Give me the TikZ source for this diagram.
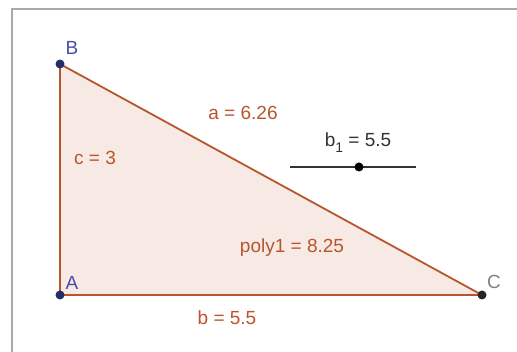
\documentclass[tikz,border=0pt]{standalone}
\usepackage{fontspec}
\setmainfont{Liberation Sans}
\definecolor{edge}{RGB}{185,85,45}
\definecolor{fillc}{RGB}{247,234,228}
\definecolor{ptlab}{RGB}{75,75,170}
\definecolor{ptblue}{RGB}{35,45,105}
\definecolor{frame}{RGB}{170,170,170}
\begin{document}
\begin{tikzpicture}[x=1pt,y=1pt,
  lab/.style={text=edge,font=\fontsize{19}{22}\selectfont,inner sep=1pt},
  plab/.style={text=ptlab,font=\fontsize{19}{22}\selectfont,inner sep=1pt},
  side/.style={draw=edge,line width=1.8pt},
  pt/.style={circle,fill=ptblue,inner sep=0pt,minimum size=9pt}]
\useasboundingbox (0,0) rectangle (517,352);
\draw[frame,line width=1.5pt] (12,0) -- (12,343) -- (517,343);
\coordinate (A) at (60,57);
\coordinate (B) at (60,288);
\coordinate (C) at (482,57);
\fill[fillc] (A) -- (B) -- (C) -- cycle;
\draw[side] (A) -- (B);
\draw[side] (B) -- (C);
\draw[side] (A) -- (C);
\node[pt] (pA) at (A) {};
\node[pt] (pB) at (B) {};
\node[pt,fill=black!85] (pC) at (C) {};
\node[plab] (lB) at (72,304) {B};
\node[plab] (lA) at (72,69) {A};
\node[plab,text=gray] (lC) at (494,70) {C};
\node[lab] (la) at (243,239) {a = 6.26};
\node[lab] (lc) at (95,194) {c = 3};
\node[lab] (lb) at (227,34) {b = 5.5};
\node[lab] (lp) at (292,104) {poly1 = 8.25};
\coordinate (s1) at (290,185);
\coordinate (s2) at (416,185);
\draw[black!80,line width=1.5pt] (s1) -- (s2);
\node[circle,fill=black,inner sep=0pt,minimum size=9pt] (sp) at (359,185) {};
\node[font=\fontsize{19}{22}\selectfont,text=black!80,inner sep=1pt,anchor=base] (lsl) at (358,205) {b\raisebox{-6pt}{\fontsize{14}{16}\selectfont 1} = 5.5};
\end{tikzpicture}
\end{document}
